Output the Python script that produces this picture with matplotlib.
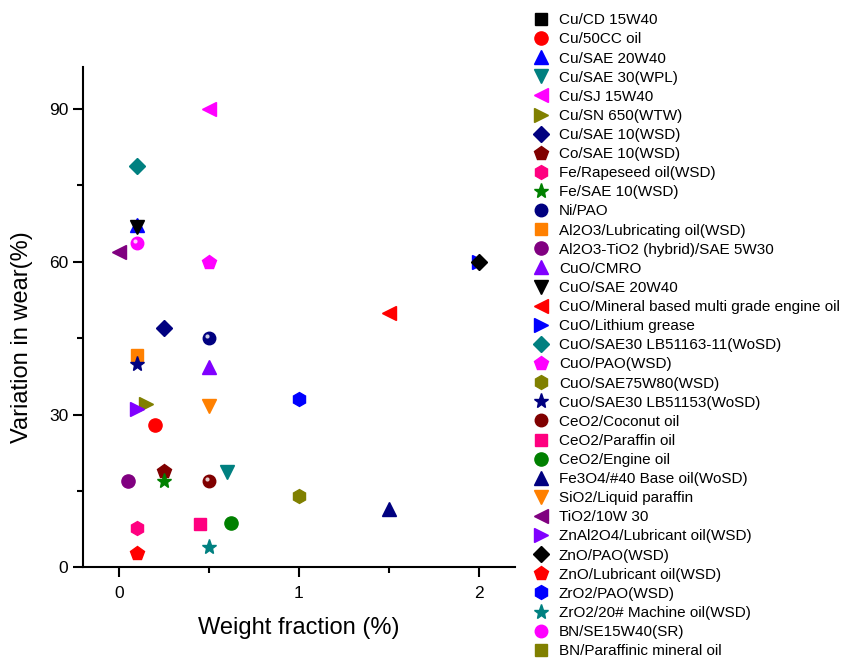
import numpy as np
import matplotlib
matplotlib.use("Agg")
import matplotlib.pyplot as plt
import matplotlib.transforms as mtransforms

plt.rcParams['font.family'] = ['Liberation Sans', 'DejaVu Sans']

labels = [
    "Cu/CD 15W40", "Cu/50CC oil", "Cu/SAE 20W40", "Cu/SAE 30(WPL)", "Cu/SJ 15W40",
    "Cu/SN 650(WTW)", "Cu/SAE 10(WSD)", "Co/SAE 10(WSD)", "Fe/Rapeseed oil(WSD)",
    "Fe/SAE 10(WSD)", "Ni/PAO", "Al2O3/Lubricating oil(WSD)",
    "Al2O3-TiO2 (hybrid)/SAE 5W30", "CuO/CMRO", "CuO/SAE 20W40",
    "CuO/Mineral based multi grade engine oil", "CuO/Lithium grease",
    "CuO/SAE30 LB51163-11(WoSD)", "CuO/PAO(WSD)", "CuO/SAE75W80(WSD)",
    "CuO/SAE30 LB51153(WoSD)", "CeO2/Coconut oil", "CeO2/Paraffin oil",
    "CeO2/Engine oil", "Fe3O4/#40 Base oil(WoSD)", "SiO2/Liquid paraffin",
    "TiO2/10W 30", "ZnAl2O4/Lubricant oil(WSD)", "ZnO/PAO(WSD)",
    "ZnO/Lubricant oil(WSD)", "ZrO2/PAO(WSD)", "ZrO2/20# Machine oil(WSD)",
    "BN/SE15W40(SR)", "BN/Paraffinic mineral oil",
]

# weight fraction (%) and variation in wear (%) per series (nan = legend only)
weight = [np.nan, 0.2, 0.1, 0.6, 0.5, 0.15, 0.25, 0.25, 0.1, 0.25, 0.5, 0.1,
          0.05, 0.5, 0.1, 1.5, 2.0, 0.1, 0.5, 1.0, 0.1, 0.5, 0.45, 0.62, 1.5,
          0.5, 0.0, 0.1, 2.0, 0.1, 1.0, 0.5, 0.1, np.nan]
wear = [np.nan, 28, 67.2, 18.8, 90, 32, 47, 19, 7.8, 17, 45, 41.7,
        17, 39.3, 66.8, 50, 60, 78.9, 60, 14, 40, 17, 8.5, 8.7, 11.4,
        31.7, 62, 31.1, 60, 2.9, 33, 4, 63.7, np.nan]

colors = ["#000000", "#FF0000", "#0000FF", "#008080", "#FF00FF", "#808000",
          "#000080", "#800000", "#FF0080", "#008000", "#000080", "#FF8000",
          "#800080", "#8000FF"]
markers = ["s", "o", "^", "v", "<", ">", "D", "p", "h", "*", "sphere"]

fig = plt.figure(figsize=(8.42, 6.6), dpi=100)
ax = fig.add_axes([0.0986, 0.1402, 0.513, 0.758])

for i, lab in enumerate(labels):
    c = colors[i % len(colors)]
    m = markers[i % len(markers)]
    if m == "sphere":
        ax.plot(weight[i], wear[i], "o", color=c, ms=9, mec=c, label=lab, ls="none")
        # little highlight to look like Origin's sphere symbol
        off = mtransforms.ScaledTranslation(-1.5 / 72, 1.5 / 72, fig.dpi_scale_trans)
        ax.plot(weight[i], wear[i], "o", color="white", ms=3, mec="none", alpha=0.8,
                transform=ax.transData + off)
    else:
        ms = {"*": 11, "D": 8, "s": 8.5, "p": 10, "h": 10}.get(m, 9.5)
        ax.plot(weight[i], wear[i], m, color=c, ms=ms, mec=c, label=lab, ls="none")

ax.set_xlim(-0.2, 2.2)
ax.set_ylim(0, 98.2)
ax.set_xticks([0, 1, 2])
ax.set_xticks([0.5, 1.5], minor=True)
ax.set_yticks([0, 30, 60, 90])
ax.set_yticks([15, 45, 75], minor=True)
ax.spines["top"].set_visible(False)
ax.spines["right"].set_visible(False)
for s in ["left", "bottom"]:
    ax.spines[s].set_linewidth(1.5)
ax.tick_params(which="major", length=7, width=1.5, labelsize=12.5)
ax.tick_params(axis="y", which="major", pad=3.5)
ax.tick_params(axis="x", which="major", pad=6)
ax.tick_params(which="minor", length=4, width=1.5)
ax.set_xlabel("Weight fraction (%)", fontsize=17, labelpad=12)
ax.set_ylabel("Variation in wear(%)", fontsize=17)
ax.yaxis.set_label_coords(-0.116, 0.46)

leg = ax.legend(loc="upper left", bbox_to_anchor=(1.024, 1.12), frameon=False,
                fontsize=11, labelspacing=0.335, handletextpad=0.6,
                handlelength=1.2, borderaxespad=0, numpoints=1)

fig.savefig("out.png", dpi=100)
